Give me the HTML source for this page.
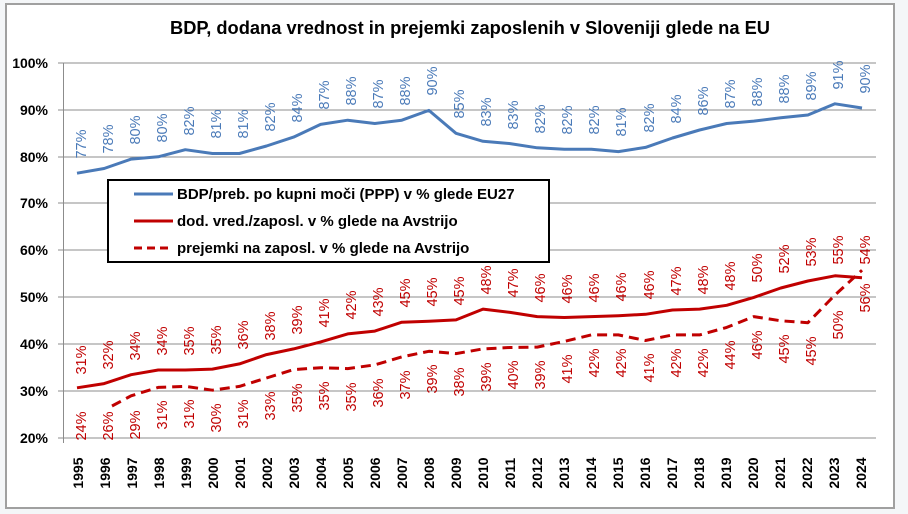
<!DOCTYPE html>
<html><head><meta charset="utf-8"><style>
body{margin:0;background:#fff}
svg{display:block;font-family:"Liberation Sans",sans-serif}
.yl{font-size:14px;font-weight:bold;text-anchor:end}
.xl{font-size:14px;font-weight:bold}
.b{fill:#4a7ab8;font-size:14.5px}
.r{fill:#c00000;font-size:14.5px}
</style></head><body>
<svg width="908" height="514" viewBox="0 0 908 514">
<rect x="0" y="0" width="908" height="514" fill="#f4f6f8"/>
<rect x="6" y="4" width="888" height="504" fill="#fff" stroke="#a0a0a0" stroke-width="2"/>
<text x="470" y="34" text-anchor="middle" font-size="18" font-weight="bold" textLength="600" lengthAdjust="spacingAndGlyphs">BDP, dodana  vrednost in prejemki zaposlenih v Sloveniji glede na EU</text>
<g stroke="#8c8c8c" stroke-width="1">
<line x1="58" y1="63" x2="876" y2="63"/><line x1="58" y1="110" x2="876" y2="110"/><line x1="58" y1="157" x2="876" y2="157"/><line x1="58" y1="203" x2="876" y2="203"/><line x1="58" y1="250" x2="876" y2="250"/><line x1="58" y1="297" x2="876" y2="297"/><line x1="58" y1="344" x2="876" y2="344"/><line x1="58" y1="391" x2="876" y2="391"/><line x1="58" y1="438" x2="876" y2="438"/>
<line x1="63.5" y1="63" x2="63.5" y2="443"/>
</g>
<g class="yl">
<text x="48" y="68">100%</text><text x="48" y="115">90%</text><text x="48" y="162">80%</text><text x="48" y="208">70%</text><text x="48" y="255">60%</text><text x="48" y="302">50%</text><text x="48" y="349">40%</text><text x="48" y="396">30%</text><text x="48" y="443">20%</text>
</g>
<polyline fill="none" stroke="#4a7ab8" stroke-width="3" stroke-linejoin="round" points="77,173.2 104.1,168.5 131.1,159.1 158.2,156.8 185.3,149.7 212.4,153.5 239.4,153.5 266.5,146 293.6,137.1 320.6,124.4 347.7,120.2 374.8,123.5 401.8,120.2 428.9,110.4 456,133.3 483,141.3 510.1,143.6 537.2,147.8 564.3,149.3 591.3,149.3 618.4,151.6 645.5,147.4 672.5,138 699.6,130 726.7,123.5 753.8,121.1 780.8,117.8 807.9,115 835,103.8 862,108"/>
<polyline fill="none" stroke="#c00000" stroke-width="3" stroke-linejoin="round" points="77,387.8 104.1,383.6 131.1,374.7 158.2,370 185.3,370 212.4,369.1 239.4,363.9 266.5,354.6 293.6,348.9 320.6,341.9 347.7,333.9 374.8,331.1 401.8,322.2 428.9,321.3 456,319.9 483,309.1 510.1,312.4 537.2,316.6 564.3,317.5 591.3,316.6 618.4,315.7 645.5,314.3 672.5,310 699.6,309.1 726.7,305.3 753.8,297.4 780.8,288 807.9,281 835,275.8 862,277.7"/>
<polyline fill="none" stroke="#c00000" stroke-width="3" stroke-dasharray="10,6" stroke-linejoin="round" points="112,406 131.1,395.8 158.2,387.4 185.3,386.4 212.4,390.2 239.4,386.4 266.5,378 293.6,369.6 320.6,367.7 347.7,368.6 374.8,364.9 401.8,356.9 428.9,351.3 456,353.6 483,348.9 510.1,347.5 537.2,347.1 564.3,341.4 591.3,334.9 618.4,334.9 645.5,340.5 672.5,334.9 699.6,334.9 726.7,327.4 753.8,316.6 780.8,320.8 807.9,322.7 835,295 862,270.2"/>
<g class="b" text-anchor="middle" dominant-baseline="central">
<text transform="translate(82,144) rotate(-90)">77%</text><text transform="translate(109,139) rotate(-90)">78%</text><text transform="translate(136,130) rotate(-90)">80%</text><text transform="translate(163,128) rotate(-90)">80%</text><text transform="translate(190,121) rotate(-90)">82%</text><text transform="translate(217,124) rotate(-90)">81%</text><text transform="translate(244,124) rotate(-90)">81%</text><text transform="translate(271,117) rotate(-90)">82%</text><text transform="translate(298,108) rotate(-90)">84%</text><text transform="translate(325,95) rotate(-90)">87%</text><text transform="translate(352,91) rotate(-90)">88%</text><text transform="translate(379,94) rotate(-90)">87%</text><text transform="translate(406,91) rotate(-90)">88%</text><text transform="translate(433,81) rotate(-90)">90%</text><text transform="translate(460,104) rotate(-90)">85%</text><text transform="translate(487,112) rotate(-90)">83%</text><text transform="translate(514,115) rotate(-90)">83%</text><text transform="translate(541,119) rotate(-90)">82%</text><text transform="translate(568,120) rotate(-90)">82%</text><text transform="translate(595,120) rotate(-90)">82%</text><text transform="translate(622,122) rotate(-90)">81%</text><text transform="translate(650,118) rotate(-90)">82%</text><text transform="translate(677,109) rotate(-90)">84%</text><text transform="translate(704,101) rotate(-90)">86%</text><text transform="translate(731,94) rotate(-90)">87%</text><text transform="translate(758,92) rotate(-90)">88%</text><text transform="translate(785,89) rotate(-90)">88%</text><text transform="translate(812,86) rotate(-90)">89%</text><text transform="translate(839,75) rotate(-90)">91%</text><text transform="translate(866,79) rotate(-90)">90%</text>
</g>
<g class="r" text-anchor="middle" dominant-baseline="central">
<text transform="translate(82,360) rotate(-90)">31%</text><text transform="translate(109,355) rotate(-90)">32%</text><text transform="translate(136,346) rotate(-90)">34%</text><text transform="translate(163,341) rotate(-90)">34%</text><text transform="translate(190,341) rotate(-90)">35%</text><text transform="translate(217,340) rotate(-90)">35%</text><text transform="translate(244,335) rotate(-90)">36%</text><text transform="translate(271,326) rotate(-90)">38%</text><text transform="translate(298,320) rotate(-90)">39%</text><text transform="translate(325,313) rotate(-90)">41%</text><text transform="translate(352,305) rotate(-90)">42%</text><text transform="translate(379,302) rotate(-90)">43%</text><text transform="translate(406,293) rotate(-90)">45%</text><text transform="translate(433,292) rotate(-90)">45%</text><text transform="translate(460,291) rotate(-90)">45%</text><text transform="translate(487,280) rotate(-90)">48%</text><text transform="translate(514,283) rotate(-90)">47%</text><text transform="translate(541,288) rotate(-90)">46%</text><text transform="translate(568,289) rotate(-90)">46%</text><text transform="translate(595,288) rotate(-90)">46%</text><text transform="translate(622,287) rotate(-90)">46%</text><text transform="translate(650,285) rotate(-90)">46%</text><text transform="translate(677,281) rotate(-90)">47%</text><text transform="translate(704,280) rotate(-90)">48%</text><text transform="translate(731,276) rotate(-90)">48%</text><text transform="translate(758,268) rotate(-90)">50%</text><text transform="translate(785,259) rotate(-90)">52%</text><text transform="translate(812,252) rotate(-90)">53%</text><text transform="translate(839,250) rotate(-90)">55%</text><text transform="translate(866,250) rotate(-90)">54%</text>
<text transform="translate(82,426) rotate(-90)">24%</text><text transform="translate(109,426) rotate(-90)">26%</text><text transform="translate(136,425) rotate(-90)">29%</text><text transform="translate(163,415) rotate(-90)">31%</text><text transform="translate(190,414) rotate(-90)">31%</text><text transform="translate(217,418) rotate(-90)">30%</text><text transform="translate(244,414) rotate(-90)">31%</text><text transform="translate(271,406) rotate(-90)">33%</text><text transform="translate(298,398) rotate(-90)">35%</text><text transform="translate(325,396) rotate(-90)">35%</text><text transform="translate(352,397) rotate(-90)">35%</text><text transform="translate(379,393) rotate(-90)">36%</text><text transform="translate(406,385) rotate(-90)">37%</text><text transform="translate(433,379) rotate(-90)">39%</text><text transform="translate(460,382) rotate(-90)">38%</text><text transform="translate(487,377) rotate(-90)">39%</text><text transform="translate(514,375) rotate(-90)">40%</text><text transform="translate(541,375) rotate(-90)">39%</text><text transform="translate(568,369) rotate(-90)">41%</text><text transform="translate(595,363) rotate(-90)">42%</text><text transform="translate(622,363) rotate(-90)">42%</text><text transform="translate(650,368) rotate(-90)">41%</text><text transform="translate(677,363) rotate(-90)">42%</text><text transform="translate(704,363) rotate(-90)">42%</text><text transform="translate(731,355) rotate(-90)">44%</text><text transform="translate(758,345) rotate(-90)">46%</text><text transform="translate(785,349) rotate(-90)">45%</text><text transform="translate(812,351) rotate(-90)">45%</text><text transform="translate(839,325) rotate(-90)">50%</text><text transform="translate(866,298) rotate(-90)">56%</text>
</g>
<g class="xl" text-anchor="middle" dominant-baseline="central">
<text transform="translate(78,473) rotate(-90)">1995</text><text transform="translate(105,473) rotate(-90)">1996</text><text transform="translate(132,473) rotate(-90)">1997</text><text transform="translate(159,473) rotate(-90)">1998</text><text transform="translate(186,473) rotate(-90)">1999</text><text transform="translate(213,473) rotate(-90)">2000</text><text transform="translate(240,473) rotate(-90)">2001</text><text transform="translate(267,473) rotate(-90)">2002</text><text transform="translate(294,473) rotate(-90)">2003</text><text transform="translate(321,473) rotate(-90)">2004</text><text transform="translate(348,473) rotate(-90)">2005</text><text transform="translate(375,473) rotate(-90)">2006</text><text transform="translate(402,473) rotate(-90)">2007</text><text transform="translate(429,473) rotate(-90)">2008</text><text transform="translate(456,473) rotate(-90)">2009</text><text transform="translate(483,473) rotate(-90)">2010</text><text transform="translate(510,473) rotate(-90)">2011</text><text transform="translate(537,473) rotate(-90)">2012</text><text transform="translate(564,473) rotate(-90)">2013</text><text transform="translate(591,473) rotate(-90)">2014</text><text transform="translate(618,473) rotate(-90)">2015</text><text transform="translate(645,473) rotate(-90)">2016</text><text transform="translate(672,473) rotate(-90)">2017</text><text transform="translate(699,473) rotate(-90)">2018</text><text transform="translate(726,473) rotate(-90)">2019</text><text transform="translate(753,473) rotate(-90)">2020</text><text transform="translate(780,473) rotate(-90)">2021</text><text transform="translate(807,473) rotate(-90)">2022</text><text transform="translate(834,473) rotate(-90)">2023</text><text transform="translate(861,473) rotate(-90)">2024</text>
</g>
<rect x="108" y="180" width="441" height="82" fill="#fff" stroke="#000" stroke-width="2"/>
<line x1="134" y1="194" x2="173" y2="194" stroke="#4a7ab8" stroke-width="3"/>
<line x1="134" y1="221" x2="173" y2="221" stroke="#c00000" stroke-width="3"/>
<line x1="134" y1="248" x2="173" y2="248" stroke="#c00000" stroke-width="3" stroke-dasharray="8,5"/>
<g font-size="15" font-weight="bold">
<text x="177" y="199">BDP/preb. po kupni moči (PPP) v % glede EU27</text>
<text x="177" y="226">dod. vred./zaposl. v % glede na Avstrijo</text>
<text x="177" y="253">prejemki na zaposl. v % glede na Avstrijo</text>
</g>
</svg>
</body></html>
